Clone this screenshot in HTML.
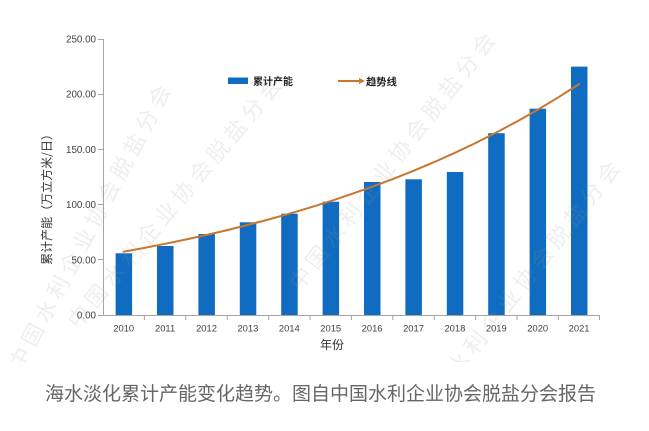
<!DOCTYPE html>
<html>
<head>
<meta charset="utf-8">
<style>
html,body{margin:0;padding:0;background:#fff;}
body{width:649px;height:431px;overflow:hidden;position:relative;}
svg{position:absolute;left:0;top:0;}
.cap{position:absolute;left:45px;top:383px;font-family:"Liberation Sans","Noto Sans CJK SC",sans-serif;font-size:19px;line-height:24px;color:#666;white-space:nowrap;}
</style>
</head>
<body>
<svg width="649" height="431" viewBox="0 0 649 431" xmlns="http://www.w3.org/2000/svg" font-family="Liberation Sans, Noto Sans CJK SC, sans-serif">
  <defs>
    <clipPath id="wm"><rect x="0" y="0" width="649" height="362"/></clipPath>
  </defs>
  <!-- axes -->
  <g stroke="#a6a6a6" stroke-width="1" fill="none">
    <line x1="103.5" y1="39" x2="103.5" y2="315.5"/>
    <line x1="103" y1="315.5" x2="600" y2="315.5"/>
    <line x1="98" y1="39.5" x2="103" y2="39.5"/>
    <line x1="98" y1="94.5" x2="103" y2="94.5"/>
    <line x1="98" y1="149.5" x2="103" y2="149.5"/>
    <line x1="98" y1="204.5" x2="103" y2="204.5"/>
    <line x1="98" y1="259.5" x2="103" y2="259.5"/>
    <line x1="98" y1="315.5" x2="103" y2="315.5"/>
    <line x1="144.4" y1="315" x2="144.4" y2="320"/>
    <line x1="185.8" y1="315" x2="185.8" y2="320"/>
    <line x1="227.2" y1="315" x2="227.2" y2="320"/>
    <line x1="268.6" y1="315" x2="268.6" y2="320"/>
    <line x1="310" y1="315" x2="310" y2="320"/>
    <line x1="351.4" y1="315" x2="351.4" y2="320"/>
    <line x1="392.8" y1="315" x2="392.8" y2="320"/>
    <line x1="434.2" y1="315" x2="434.2" y2="320"/>
    <line x1="475.6" y1="315" x2="475.6" y2="320"/>
    <line x1="517" y1="315" x2="517" y2="320"/>
    <line x1="558.4" y1="315" x2="558.4" y2="320"/>
    <line x1="599.5" y1="315" x2="599.5" y2="320"/>
  </g>
  <!-- y tick labels -->
  <g font-size="9.8" fill="#404040" text-anchor="end">
    <text x="96" y="42.5">250.00</text>
    <text x="96" y="97.7">200.00</text>
    <text x="96" y="152.9">150.00</text>
    <text x="96" y="208.1">100.00</text>
    <text x="96" y="263.3">50.00</text>
    <text x="96" y="318.5">0.00</text>
  </g>
  <!-- x tick labels -->
  <g font-size="9.4" fill="#404040" text-anchor="middle">
    <text x="123.7" y="331.5">2010</text>
    <text x="165.1" y="331.5">2011</text>
    <text x="206.5" y="331.5">2012</text>
    <text x="247.9" y="331.5">2013</text>
    <text x="289.3" y="331.5">2014</text>
    <text x="330.7" y="331.5">2015</text>
    <text x="372.1" y="331.5">2016</text>
    <text x="413.5" y="331.5">2017</text>
    <text x="454.9" y="331.5">2018</text>
    <text x="496.3" y="331.5">2019</text>
    <text x="537.7" y="331.5">2020</text>
    <text x="579.1" y="331.5">2021</text>
  </g>
  <!-- bars -->
  <g fill="#0f6cc0">
    <rect x="115.6" y="253.3" width="16.5" height="61.7"/>
    <rect x="157.0" y="246.0" width="16.5" height="69.0"/>
    <rect x="198.4" y="234.0" width="16.5" height="81.0"/>
    <rect x="239.8" y="222.3" width="16.5" height="92.7"/>
    <rect x="281.2" y="213.7" width="16.5" height="101.3"/>
    <rect x="322.6" y="201.7" width="16.5" height="113.3"/>
    <rect x="364.0" y="182.0" width="16.5" height="133.0"/>
    <rect x="405.4" y="179.3" width="16.5" height="135.7"/>
    <rect x="446.8" y="172.0" width="16.5" height="143.0"/>
    <rect x="488.2" y="133.2" width="16.5" height="181.8"/>
    <rect x="529.6" y="108.7" width="16.5" height="206.3"/>
    <rect x="571.0" y="66.6" width="16.5" height="248.4"/>
  </g>
  <!-- trend line -->
  <polyline fill="none" stroke="#c8762e" stroke-width="2" stroke-linejoin="round" stroke-linecap="round"
    points="123.7,251.7 144.4,247.9 165.1,243.8 185.8,239.5 206.5,235.0 227.2,230.1 247.9,224.9 268.6,219.5 289.3,213.7 310,207.6 330.7,201.1 351.4,194.1 372.1,186.8 392.8,179.1 413.5,170.8 434.2,162.1 454.9,152.8 475.6,143.0 496.3,132.5 517,121.5 537.7,109.7 558.4,97.3 579.1,84.1"/>
  <!-- legend -->
  <rect x="228" y="77.5" width="20" height="6.5" fill="#0f6cc0"/>
  <text x="253" y="85" font-size="10" fill="#222" font-weight="bold">累计产能</text>
  <line x1="338" y1="81" x2="360" y2="81" stroke="#c8762e" stroke-width="2"/>
  <polygon points="359,78 365,81 359,84" fill="#c8762e"/>
  <text x="366" y="85.5" font-size="10.3" fill="#222" font-weight="bold">趋势线</text>
  <!-- axis titles -->
  <text x="0" y="0" font-family="Noto Sans CJK SC, sans-serif" font-size="12" fill="#333" text-anchor="middle" transform="translate(51,196.5) rotate(-90)">累计产能（万立方米/日）</text>
  <text x="332" y="349" font-size="12" fill="#333" text-anchor="middle">年份</text>
  <!-- watermarks -->
  <g clip-path="url(#wm)" font-size="22" fill="#9a9a9a" opacity="0.16" letter-spacing="5">
    <text transform="translate(22,372) rotate(-62)">中国水利企业协会脱盐分会</text>
    <text transform="translate(78,330) rotate(-50)">中国水利企业协会脱盐分会</text>
    <text transform="translate(300,292) rotate(-52)">中国水利企业协会脱盐分会</text>
    <text transform="translate(425,420) rotate(-52)">中国水利企业协会脱盐分会</text>
  </g>
</svg>
<div class="cap">海水淡化累计产能变化趋势。图自中国水利企业协会脱盐分会报告</div>
</body>
</html>
